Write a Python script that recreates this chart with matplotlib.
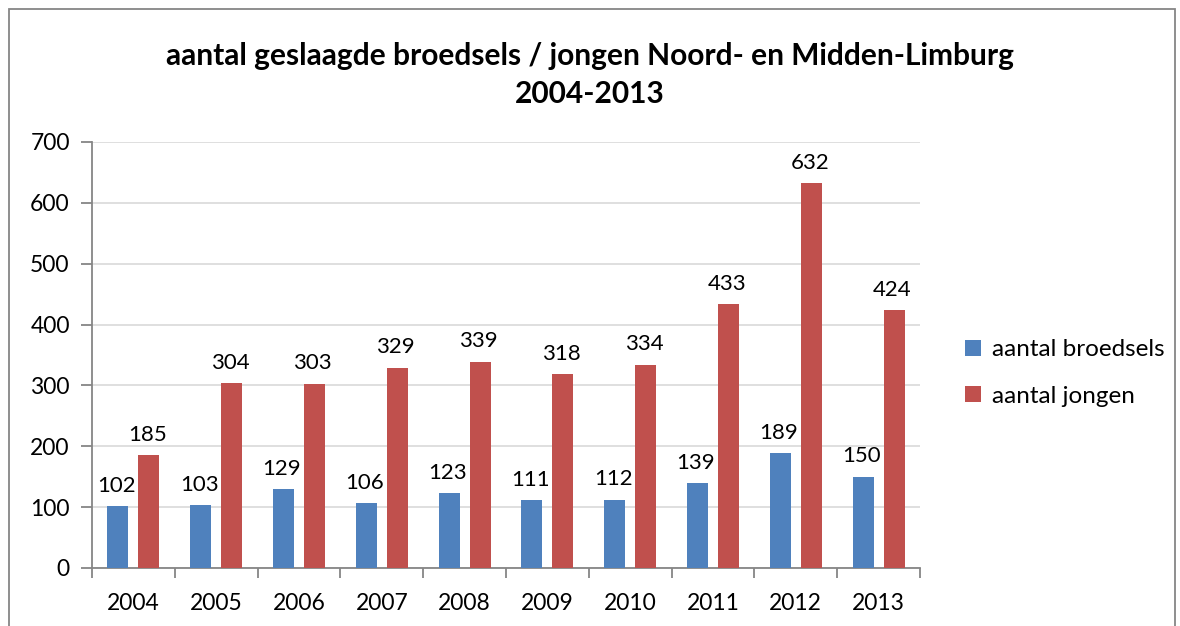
import numpy as np
import matplotlib
matplotlib.use('Agg')
import matplotlib.pyplot as plt
from matplotlib.patches import Rectangle

years = ['2004', '2005', '2006', '2007', '2008', '2009', '2010', '2011', '2012', '2013']
broedsels = [102, 103, 129, 106, 123, 111, 112, 139, 189, 150]
jongen = [185, 304, 303, 329, 339, 318, 334, 433, 632, 424]
y_ticks = [0, 100, 200, 300, 400, 500, 600, 700]

plt.rcParams['font.family'] = ['Lato', 'DejaVu Sans']

fig = plt.figure(figsize=(11.8, 6.26), dpi=100)
ax = fig.add_axes([92 / 1180, 1 - 568 / 626, (920 - 92) / 1180, (568 - 142) / 626])

# rand om de grafiek
fig.patches.append(Rectangle((9 / 1180, -0.05), (1175 - 9) / 1180, 1 - 9.5 / 626 + 0.05,
                             transform=fig.transFigure, fill=False,
                             edgecolor='#868686', linewidth=1.3))

x = np.arange(len(years))
w = 0.255
off = 0.187
ax.bar(x - off, broedsels, w, color='#4F81BD', label='aantal broedsels', zorder=3)
ax.bar(x + off, jongen, w, color='#C0504D', label='aantal jongen', zorder=3)

for xi, v in zip(x, broedsels):
    ax.text(xi - off - 0.02, v + 17, str(v), ha='center', va='bottom', fontsize=16)
for xi, v in zip(x, jongen):
    ax.text(xi + off - 0.02, v + 17, str(v), ha='center', va='bottom', fontsize=16)

ax.set_xlim(-0.5, len(years) - 0.5)
ax.set_ylim(0, 700)
ax.set_yticks(y_ticks)
ax.set_yticklabels([str(t) for t in y_ticks], fontsize=16.5)
ax.yaxis.grid(True, color='#D9D9D9', linewidth=1.2, zorder=0)
ax.set_axisbelow(True)

ax.set_xticks(x)
ax.set_xticklabels(years, fontsize=16.5)
ax.tick_params(axis='x', length=0, pad=18)
ax.set_xticks(np.arange(len(years) + 1) - 0.5, minor=True)
ax.tick_params(axis='x', which='minor', length=7, color='#868686', width=1.3)
ax.tick_params(axis='y', length=8, color='#868686', width=1.3, pad=8)

for s in ['top', 'right']:
    ax.spines[s].set_visible(False)
for s in ['left', 'bottom']:
    ax.spines[s].set_color('#868686')
    ax.spines[s].set_linewidth(1.3)

fig.text(0.5, 1 - 75 / 626, 'aantal geslaagde broedsels / jongen Noord- en Midden-Limburg\n2004-2013',
         ha='center', va='center', fontsize=21.5, fontweight='bold', linespacing=1.45)

ax.legend(loc='center left', bbox_to_anchor=(943 / 1180, 1 - 373 / 626),
          bbox_transform=fig.transFigure, frameon=False, fontsize=17.5,
          handlelength=0.65, handleheight=0.65, handletextpad=0.45, labelspacing=1.05)

plt.savefig('out.png', dpi=100)
